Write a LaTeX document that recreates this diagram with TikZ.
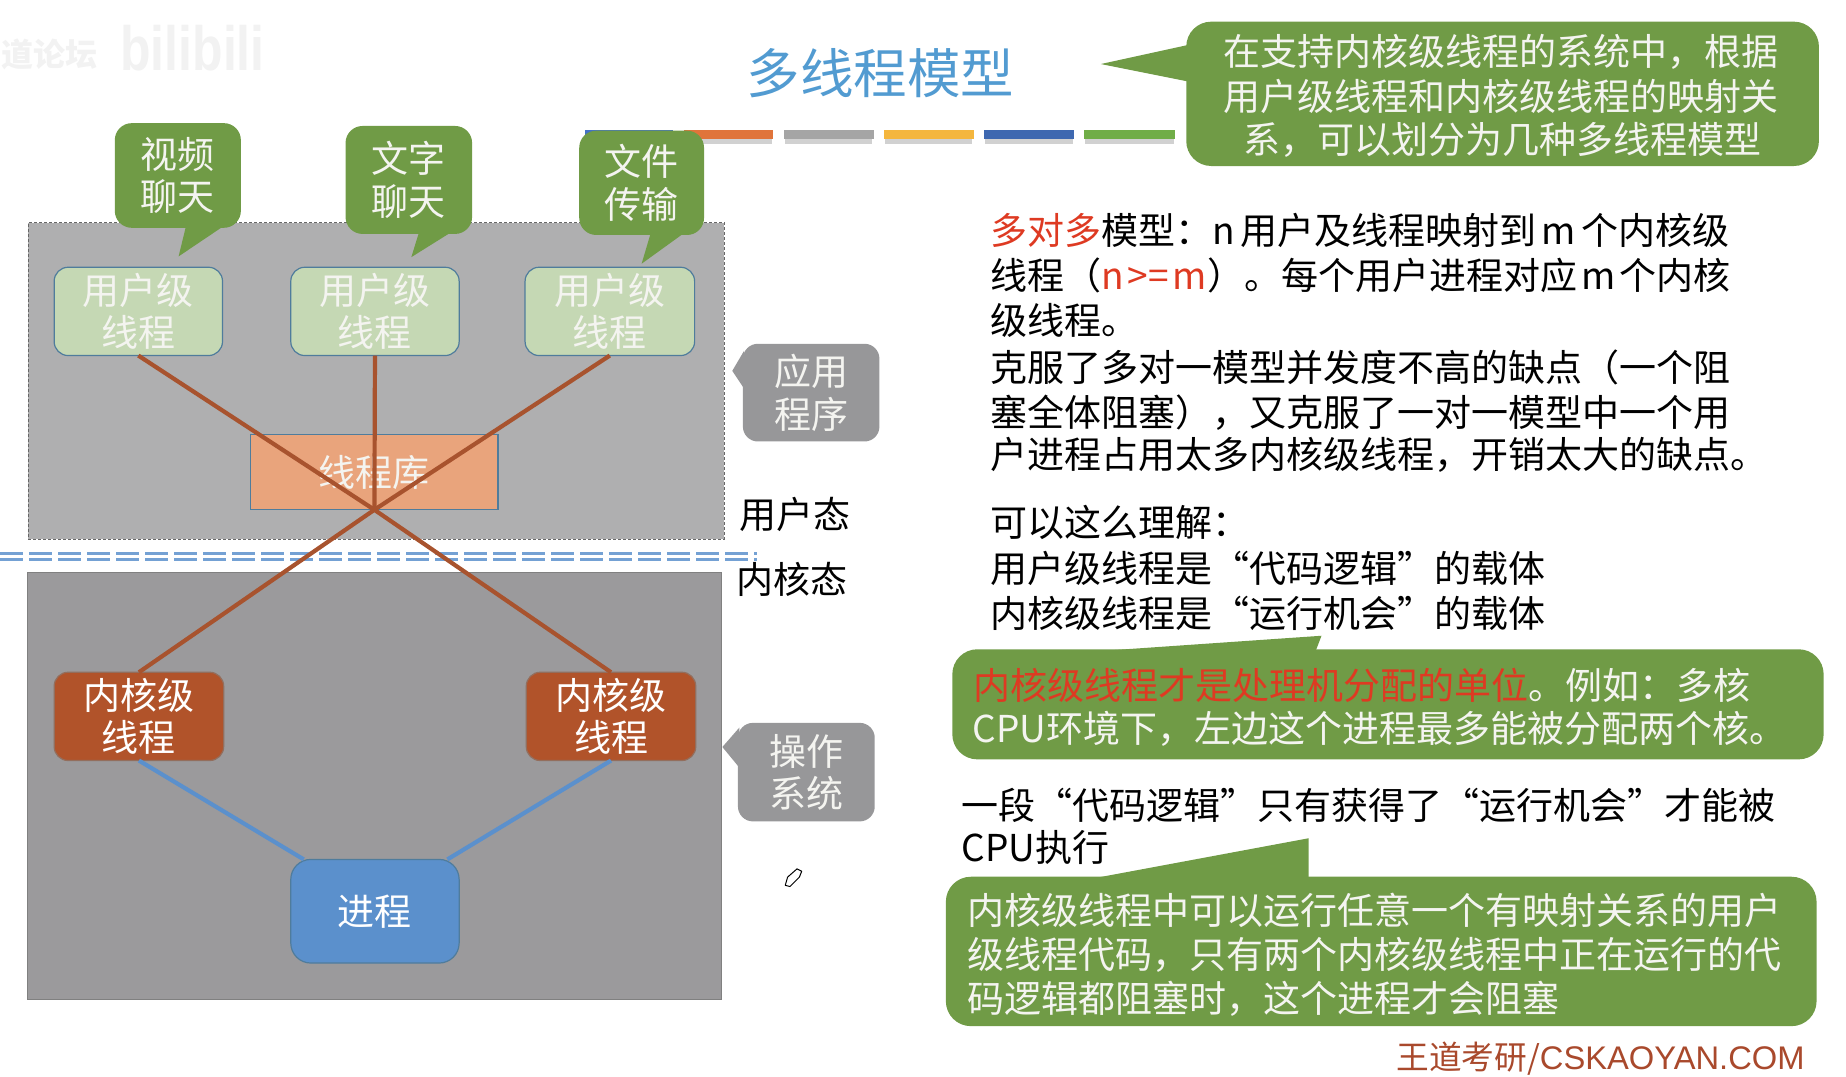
\documentclass[tikz,border=0pt]{standalone}
\usepackage{fontspec}
\setmainfont{Noto Sans CJK SC}
\newfontfamily\latinfont{Liberation Sans}
\definecolor{gUp}{HTML}{AFAFB0}
\definecolor{gLow}{HTML}{9B9A9C}
\definecolor{gCall}{HTML}{979799}
\definecolor{leaf}{HTML}{709B46}
\definecolor{ulight}{HTML}{C5D8B4}
\definecolor{edgeb}{HTML}{4F7C9C}
\definecolor{rust}{HTML}{B1532A}
\definecolor{rustline}{HTML}{A8532E}
\definecolor{procb}{HTML}{5B90CC}
\definecolor{libc}{HTML}{E9A47C}
\definecolor{softw}{HTML}{F4F4F0}
\definecolor{redt}{HTML}{DE3A22}
\definecolor{footc}{HTML}{A9492C}
\newcommand\pxnode[7]{\node[#2,minimum width={(#5-#3)*1.1773pt},minimum height={(#6-#4)*1.1773pt}] (#1) at ({(#3+#5)/2},{(#4+#6)/2}) {#7};}
\tikzset{
 base/.style={inner sep=0pt,outer sep=0pt,align=center},
 big/.style={font=\fontsize{37}{42.5}\selectfont},
 upanel/.style={base,rectangle,fill=gUp,draw=gray!80!black,densely dashed,line width=0.8pt},
 lpanel/.style={base,rectangle,fill=gLow,draw=gray,line width=0.8pt},
 ubox/.style={base,big,rounded corners=14pt,fill=ulight,draw=edgeb,line width=1.2pt,text=softw},
 kbox/.style={base,big,rounded corners=14pt,fill=rust,draw=gray!60!rust,line width=1.2pt,text=white},
 pbox/.style={base,big,rounded corners=20pt,fill=procb,draw=edgeb,line width=1.2pt,text=white},
 lib/.style={base,big,rectangle,fill=libc,draw=edgeb,line width=1.2pt,text=softw},
 gcall/.style={base,big,rounded corners=17pt,fill=leaf,text=softw},
 grey/.style={base,big,rounded corners=15pt,fill=gCall,text=softw},
 wide/.style={base,rounded corners=25pt,fill=leaf},
 tip/.style={fill=leaf},
 grip/.style={fill=gCall},
 say/.style={inner sep=0pt,outer sep=0pt,anchor=west,text height=33.76pt,text depth=3.24pt,font=\fontsize{37}{44}\selectfont},
 sayw/.style={say,text=softw},
 tline/.style={rustline,line width=4.2pt},
 bline/.style={procb,line width=4.2pt},
 sepline/.style={color=procb!85!white,line width=3pt,dash pattern=on 23pt off 6pt},
 bar/.style={base,rectangle},
}
\begin{document}
\begin{tikzpicture}[x=1.1773pt,y=-1.1773pt]
\useasboundingbox (0,0) rectangle (1568,914);
% watermark
\node[inner sep=0pt,text=black!5,font=\fontsize{32}{32}\selectfont\bfseries,anchor=west] (wm1) at (1,46) {道论坛};
\node[inner sep=0pt,text=black!5,font=\fontsize{50}{50}\selectfont\bfseries\latinfont,anchor=west,yscale=1.25] (wm2) at (102,41) {bilibili};
% title
\node[inner sep=0pt,text=procb!90!cyan,font=\fontsize{53.5}{60}\selectfont] (title) at (748,62) {多线程模型};
% colour bars
\foreach \xa/\xb/\c [count=\i] in {497/572/4472C4,581/657/E0743A,666/742/A5A5A5,751/827/F4B63E,836/912/3E68B0,921/998/70AD47}{
  \definecolor{barc}{HTML}{\c}
  \fill[black!18] (\xa+1,118) rectangle (\xb-1,122);
  \pxnode{bar\i}{bar,fill=barc}{\xa}{110}{\xb}{118}{}
}
% panels
\pxnode{upper}{upanel}{24}{189}{615}{458}{}
\pxnode{lower}{lpanel}{23}{486}{613}{849}{}
% separator
\coordinate (sa) at (0,470.5); \coordinate (sb) at (643,470.5);
\coordinate (sc) at (0,475); \coordinate (sd) at (643,475);
\draw[sepline] (sa) -- (sb);
\draw[sepline] (sc) -- (sd);
% boxes
\pxnode{u1}{ubox}{46}{227}{189}{302}{用户级\\线程}
\pxnode{u2}{ubox}{247}{227}{390}{302}{用户级\\线程}
\pxnode{u3}{ubox}{446}{227}{590}{302}{用户级\\线程}
\pxnode{libr}{lib}{213}{369}{423}{433}{线程库}
\pxnode{k1}{kbox}{46}{571}{190}{646}{内核级\\线程}
\pxnode{k2}{kbox}{447}{571}{591}{646}{内核级\\线程}
\pxnode{proc}{pbox}{247}{730}{390}{818}{进程}
% connectors
\coordinate (hub) at (318,433);
\coordinate (pl) at (258,730);
\coordinate (pr) at (380,730);
\draw[tline] (u1.south) -- (hub) -- (k2.north);
\draw[tline] (u3.south) -- (hub) -- (k1.north);
\draw[tline] (u2.south) -- (hub);
\draw[bline] (k1.south) -- (pl);
\draw[bline] (k2.south) -- (pr);
% small callouts
\fill[tip] (158,192) -- (151.7,217.8) -- (190,192) -- cycle;
\pxnode{c1}{gcall}{97.5}{104.6}{204.6}{193.5}{视频\\聊天}
\fill[tip] (356,197) -- (349.4,218.4) -- (383.6,197) -- cycle;
\pxnode{c2}{gcall}{293.5}{107}{401}{198.7}{文字\\聊天}
\fill[tip] (552.7,198) -- (545,224) -- (581,198) -- cycle;
\pxnode{c3}{gcall}{492}{111}{598}{199.6}{文件\\传输}
% grey callouts
\fill[grip] (632,298) -- (622,315) -- (632,330) -- cycle;
\pxnode{app}{grey}{631}{292}{747}{375}{应用\\程序}
\fill[grip] (628,618) -- (613.6,634.5) -- (628,652) -- cycle;
\pxnode{os}{grey}{626.8}{614}{743}{697.7}{操作\\系统}
\node[inner sep=0pt,font=\fontsize{37}{42}\selectfont] (ustate) at (675,437) {用户态};
\node[inner sep=0pt,font=\fontsize{37}{42}\selectfont] (kstate) at (673,492) {内核态};
% pencil
\draw[black,line width=1pt,fill=white,line join=round] (667,752) -- (669,745) -- (677,738) -- (681,740) -- (679,745) -- (671,753) -- cycle;
% top callout
\fill[tip] (1010,38) -- (935,54.4) -- (1010,69.4) -- cycle;
\pxnode{topc}{wide}{1007.6}{18.4}{1545}{141}{}
\node[sayw,anchor=center] (t1) at (1275,43) {在支持内核级线程的系统中，根据};
\node[sayw,anchor=center] (t2) at (1275,81) {用户级线程和内核级线程的映射关};
\node[sayw,anchor=center] (t3) at (1276,117) {系，可以划分为几种多线程模型};
% right text
\node[say] (r1) at (841,195) {\textcolor{redt}{多对多}模型：n\hspace{5.5pt}用户及线程映射到\hspace{5.5pt}m\hspace{5.5pt}个内核级};
\node[say] (r2) at (841,233) {线程（\textcolor{redt}{n\hspace{4pt}>=\hspace{4pt}m}）。每个用户进程对应\hspace{4pt}m\hspace{4pt}个内核};
\node[say] (r3) at (841,271) {级线程。};
\node[say] (r4) at (841,311) {克服了多对一模型并发度不高的缺点（一个阻};
\node[say] (r5) at (841,349) {塞全体阻塞），又克服了一对一模型中一个用};
\node[say] (r6) at (841,385) {户进程占用太多内核级线程，开销太大的缺点。};
\node[say] (r7) at (841,443) {可以这么理解：};
\node[say] (r8) at (841,482) {用户级线程是“代码逻辑”的载体};
\node[say] (r9) at (841,520) {内核级线程是“运行机会”的载体};
% green note 1
\fill[tip] (934,553) -- (1122.5,540) -- (1117.5,553) -- cycle;
\pxnode{n1}{wide}{808.9}{551.5}{1549}{645}{}
\node[sayw] (n1a) at (827,581) {\textcolor{redt}{内核级线程才是处理机分配的单位}。例如：多核};
\node[sayw] (n1b) at (826,618) {CPU环境下，左边这个进程最多能被分配两个核。};
% black text
\node[say] (b1) at (817,683) {一段“代码逻辑”只有获得了“运行机会”才能被};
\node[say] (b2) at (817,719) {CPU执行};
% green note 2
\fill[tip] (929,746) -- (1111.6,712) -- (1111.6,746) -- cycle;
\pxnode{n2}{wide}{803.4}{744.7}{1543}{871.6}{}
\node[sayw] (n2a) at (822,772) {内核级线程中可以运行任意一个有映射关系的用户};
\node[sayw] (n2b) at (822,810) {级线程代码，只有两个内核级线程中正在运行的代};
\node[sayw] (n2c) at (822,847) {码逻辑都阻塞时，这个进程才会阻塞};
% footer
\node[inner sep=0pt,anchor=east,text=footc,font=\fontsize{32.7}{36}\selectfont] (foot) at (1533,899.5) {王道考研/{\latinfont CSKAOYAN.COM}};
\end{tikzpicture}
\end{document}
